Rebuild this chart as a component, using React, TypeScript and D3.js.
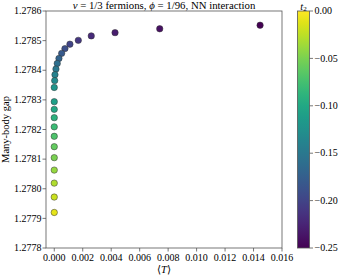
import React from 'react';
import * as d3 from 'd3';

// <T> values (top-right point first)
const meanT = [
  0.01446, 0.00741, 0.00427, 0.0026, 0.00169, 0.0011, 0.00075, 0.00052, 0.00033,
  0.00021, 0.00012, 0.00005, 0.00003, 0, 0, 0, 0, 0, 0, 0, 0, 0, 0, 0, 0,
];
const gap = [
  1.278552, 1.27854, 1.278527, 1.278516, 1.278501, 1.278488, 1.278473, 1.278457,
  1.27844, 1.278423, 1.278404, 1.278385, 1.278365, 1.278342, 1.278294, 1.278268,
  1.27824, 1.278209, 1.278177, 1.278142, 1.278105, 1.278063, 1.278019, 1.277972,
  1.27792,
];
const t2 = [
  -0.25, -0.24, -0.23, -0.22, -0.21, -0.2, -0.19, -0.18, -0.17, -0.16, -0.15, -0.14,
  -0.13, -0.12, -0.11, -0.1, -0.09, -0.08, -0.07, -0.06, -0.05, -0.04, -0.03, -0.02,
  -0.01,
];
const xTicks = [0, 0.002, 0.004, 0.006, 0.008, 0.01, 0.012, 0.014, 0.016];
const yTicks = [1.2778, 1.2779, 1.278, 1.2781, 1.2782, 1.2783, 1.2784, 1.2785, 1.2786];
const cTicks = [0, -0.05, -0.1, -0.15, -0.2, -0.25];

const W = 339;
const H = 276;
const ax = { left: 46, top: 11, right: 282, bottom: 248 };
const cb = { left: 297.5, right: 309.5 };
const font = '"Liberation Serif", "DejaVu Serif", serif';
const fs = 10;

const x = d3.scaleLinear().domain([-0.00058, 0.016]).range([ax.left, ax.right]);
const y = d3.scaleLinear().domain([1.2778, 1.2786]).range([ax.bottom, ax.top]);
const c = d3.scaleLinear().domain([-0.25, 0]).range([ax.bottom, ax.top]);
const color = (v: number) => d3.interpolateViridis((v + 0.25) / 0.25);
const fmtC = (v: number) => (v < 0 ? '\u2212' : '') + Math.abs(v).toFixed(2);

export default function App() {
  const stops = d3.range(0, 1.0001, 0.05);
  return (
    <svg
      width={W}
      height={H}
      style={{ position: 'absolute', left: 0, top: 0, background: '#fff' }}
      fontFamily={font}
      fontSize={fs}
    >
      <defs>
        <linearGradient id="vir" x1="0" y1="1" x2="0" y2="0">
          {stops.map((s) => (
            <stop key={s} offset={s} stopColor={d3.interpolateViridis(s)} />
          ))}
        </linearGradient>
      </defs>

      {/* title */}
      <text x={(ax.left + ax.right) / 2} y={8.5} textAnchor="middle" fontSize={10.8}>
        <tspan fontStyle="italic">ν</tspan>
        <tspan> = 1/3 fermions, </tspan>
        <tspan fontStyle="italic">ϕ</tspan>
        <tspan> = 1/96, NN interaction</tspan>
      </text>

      {/* points */}
      {meanT.map((t, i) => (
        <circle
          key={i}
          cx={x(t)}
          cy={y(gap[i])}
          r={3.2}
          fill={color(t2[i])}
          stroke="#333"
          strokeWidth={0.5}
        />
      ))}

      {/* frame */}
      <rect
        x={ax.left}
        y={ax.top}
        width={ax.right - ax.left}
        height={ax.bottom - ax.top}
        fill="none"
        stroke="#555"
        strokeWidth={0.8}
      />

      {/* x axis */}
      {xTicks.map((t) => (
        <g key={t} transform={`translate(${x(t)},${ax.bottom})`}>
          <line y2={3.5} stroke="#555" strokeWidth={0.8} />
          <text y={12.5} textAnchor="middle">
            {t.toFixed(3)}
          </text>
        </g>
      ))}
      <text x={(ax.left + ax.right) / 2} y={273} textAnchor="middle" fontSize={10.5}>
        ⟨<tspan fontStyle="italic">T</tspan>⟩
      </text>

      {/* y axis */}
      {yTicks.map((t) => (
        <g key={t} transform={`translate(${ax.left},${y(t)})`}>
          <line x2={-3.5} stroke="#555" strokeWidth={0.8} />
          <text x={-4.5} dy="0.32em" textAnchor="end">
            {t.toFixed(4)}
          </text>
        </g>
      ))}
      <text
        transform={`translate(9,${(ax.top + ax.bottom) / 2}) rotate(-90)`}
        textAnchor="middle"
        fontSize={10.5}
      >
        Many-body gap
      </text>

      {/* colorbar */}
      <rect
        x={cb.left}
        y={ax.top}
        width={cb.right - cb.left}
        height={ax.bottom - ax.top}
        fill="url(#vir)"
        stroke="#555"
        strokeWidth={0.8}
      />
      {cTicks.map((t) => (
        <g key={t} transform={`translate(${cb.right},${c(t)})`}>
          <line x2={3.5} stroke="#555" strokeWidth={0.8} />
          <text x={5} dy="0.32em">
            {fmtC(t)}
          </text>
        </g>
      ))}
      <text x={(cb.left + cb.right) / 2} y={9.5} textAnchor="middle" fontSize={10.5}>
        <tspan fontStyle="italic">t</tspan>
        <tspan fontSize={7} dy={1}>2</tspan>
      </text>
    </svg>
  );
}
